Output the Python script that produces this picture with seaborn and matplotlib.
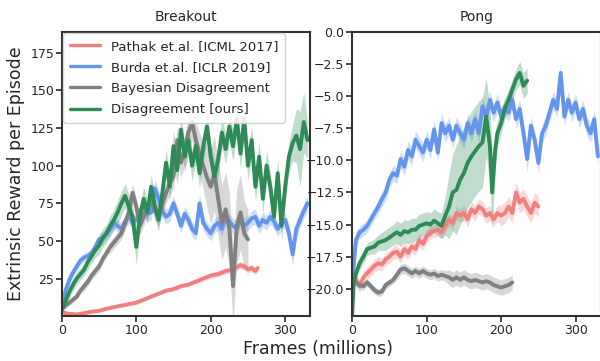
import numpy as np
import pandas as pd
import matplotlib
matplotlib.use("Agg")
import matplotlib.pyplot as plt
import seaborn as sns

# ---------------- Data ----------------
labels = ["Pathak et.al. [ICML 2017]", "Burda et.al. [ICLR 2019]",
          "Bayesian Disagreement", "Disagreement [ours]"]
colors = ["#F08080", "#6495ED", "#808080", "#2E8B57"]

# Breakout
bo_red_x = [0, 5, 10, 20, 30, 40, 50, 60, 70, 80, 90, 100, 110, 120, 130, 140, 150,
            160, 170, 180, 190, 200, 210, 220, 230, 240, 245, 250, 255, 260, 263]
bo_red_y = [3, 2, 1.5, 1.2, 2, 3, 3.5, 5, 6, 7, 8, 9, 11, 13, 15, 17, 18,
            20, 21, 23, 25, 27, 28, 30, 31, 34, 33, 31, 32, 30, 32]
bo_red_s = [1, 1, 1, 1, 1, 1, 1, 1, 1, 1, 1, 1.2, 1.2, 1.2, 1.2, 1.5, 1.5,
            1.5, 1.5, 1.5, 2, 2, 2, 2, 2, 2.5, 2.5, 2.5, 2.5, 2.5, 2.5]

bo_x5 = list(range(0, 331, 5))
bo_blue_y = [5, 17, 24, 29, 33, 37, 39, 40, 42, 46, 51, 52, 55, 58, 62, 60, 58, 63, 67, 62,
             64, 70, 73, 68, 69, 85, 78, 70, 66, 68, 75, 68, 60, 68, 64, 58, 55, 75, 62, 58,
             55, 60, 62, 58, 66, 63, 60, 58, 64, 60, 62, 65, 66, 60, 64, 62, 66, 63, 58, 62,
             64, 55, 41, 58, 64, 70, 75]
bo_blue_s = [2, 3, 3, 3, 3, 3, 3, 3, 3, 3, 4, 4, 4, 4, 4, 4, 4, 4, 5, 5,
             5, 5, 5, 5, 5, 6, 6, 5, 5, 5, 5, 5, 5, 5, 5, 5, 5, 6, 5, 5,
             5, 5, 5, 5, 5, 5, 5, 5, 5, 5, 5, 5, 5, 5, 5, 5, 5, 5, 5, 5,
             5, 6, 8, 6, 5, 5, 5]
bo_green_y = [4, 10, 16, 21, 25, 28, 31, 36, 40, 44, 47, 52, 55, 60, 64, 69, 75, 80, 73, 66,
              46, 66, 78, 69, 86, 73, 64, 82, 102, 86, 113, 97, 124, 106, 117, 100, 113, 95, 113, 126,
              106, 93, 104, 122, 111, 126, 113, 131, 108, 131, 100, 117, 86, 106, 78, 100, 86, 66, 95, 60,
              86, 106, 115, 120, 111, 129, 117]
bo_green_s = [2, 3, 4, 4, 4, 4, 4, 5, 5, 5, 6, 6, 6, 7, 7, 8, 8, 8, 8, 8,
              12, 8, 8, 8, 8, 8, 8, 8, 9, 9, 10, 10, 10, 10, 10, 10, 10, 10, 10, 10,
              10, 10, 10, 10, 10, 10, 10, 10, 10, 10, 10, 10, 10, 10, 10, 10, 10, 10, 10, 10,
              10, 10, 12, 18, 25, 20, 12]
bo_gray_x = list(range(0, 251, 5))
bo_gray_y = [5, 7, 9, 11, 13, 17, 20, 23, 27, 30, 33, 38, 42, 46, 49, 52, 55, 62, 69, 82,
             73, 60, 66, 72, 78, 70, 66, 74, 82, 88, 93, 117, 102, 110, 122, 129, 117, 108, 100, 92,
             86, 95, 78, 62, 71, 58, 20, 60, 69, 55, 51]
bo_gray_s = [2, 2, 2, 2, 2, 2, 3, 3, 3, 3, 3, 3, 3, 4, 4, 4, 4, 5, 5, 6,
             6, 6, 6, 6, 6, 6, 6, 7, 7, 8, 8, 10, 10, 10, 12, 12, 12, 14, 16, 20,
             25, 25, 25, 25, 25, 25, 25, 25, 25, 22, 20]

# Pong
pg_x5 = list(range(0, 331, 5))
pg_blue_y = [-19.5, -16.2, -15.6, -15.4, -15.1, -14.6, -14.1, -13.6, -13.0, -12.5, -11.5, -11.0, -11.2, -9.9,
             -10.5, -9.2, -9.7, -8.4, -8.9, -9.4, -8.4, -9.2, -7.6, -9.4, -7.1, -7.9, -7.3, -8.4,
             -7.3, -7.9, -8.4, -7.1, -7.9, -6.8, -7.9, -5.8, -6.6, -5.3, -6.3, -5.5, -6.6, -5.8,
             -6.3, -5.3, -6.8, -6.0, -7.9, -9.9, -7.3, -8.4, -10.2, -7.9, -7.3, -6.3, -5.3, -6.0,
             -3.2, -6.6, -5.3, -6.3, -5.5, -6.8, -6.0, -7.3, -7.9, -6.8, -9.7]
pg_blue_s = [1.0, 0.6, 0.5, 0.5, 0.5, 0.5, 0.5, 0.5, 0.6, 0.6, 0.6, 0.6, 0.6, 0.7,
             0.7, 0.7, 0.7, 0.7, 0.7, 0.7, 0.7, 0.7, 0.7, 0.7, 0.7, 0.7, 0.7, 0.7,
             0.7, 0.7, 0.7, 0.7, 0.7, 0.7, 0.7, 0.7, 0.7, 0.7, 0.7, 0.7, 0.7, 0.7,
             0.7, 0.7, 0.7, 0.7, 0.8, 1.0, 0.7, 0.7, 0.8, 0.7, 0.7, 0.7, 0.7, 0.7,
             0.8, 0.7, 0.7, 0.7, 0.7, 0.7, 0.7, 0.7, 0.7, 0.7, 0.7]
pg_green_x = [0, 2, 5, 10, 15, 20, 25, 30, 35, 40, 45, 50, 55, 60, 65, 70, 75, 80, 85, 90, 95, 100,
              105, 110, 115, 120, 125, 130, 135, 140, 145, 150, 155, 160, 165, 170, 175, 180,
              185, 188, 192, 195, 200, 205, 210, 215, 220, 225, 230, 235]
pg_green_y = [-22.0, -19.6, -18.8, -18.0, -17.5, -16.9, -16.8, -16.7, -16.4, -16.3, -16.2, -16.0, -15.8,
              -15.6, -15.8, -15.5, -15.6, -15.4, -15.4, -15.1, -15.0, -14.9, -15.0, -14.7, -14.9, -15.1,
              -14.3, -13.6, -12.5, -12.3, -11.5, -11.0, -10.2, -9.7, -9.3, -8.9, -8.6, -6.6,
              -8.9, -12.5, -9.2, -7.9, -7.1, -6.0, -5.3, -4.5, -3.7, -3.2, -4.2, -3.8]
pg_green_s = [0.3, 0.5, 0.5, 0.5, 0.5, 0.5, 0.5, 0.6, 0.6, 0.7, 0.8, 0.8, 0.8,
              0.9, 0.9, 0.9, 0.9, 0.9, 0.9, 0.9, 0.9, 0.9, 0.9, 0.9, 0.9, 1.0,
              1.5, 2.5, 3.0, 3.5, 3.5, 3.5, 3.5, 3.5, 3.5, 3.5, 3.5, 3.0,
              3.0, 3.0, 1.5, 1.0, 0.8, 0.8, 0.8, 0.8, 0.8, 0.9, 1.0, 1.0]
pg_red_x = list(range(0, 251, 5))
pg_red_y = [-19.0, -19.3, -19.8, -19.1, -18.8, -18.5, -18.2, -18.0, -18.1, -17.7, -17.5, -17.2, -17.1,
            -17.5, -16.9, -17.2, -16.7, -16.9, -16.2, -16.5, -15.9, -15.6, -15.5, -15.4, -15.6, -15.1,
            -14.6, -14.9, -14.1, -14.3, -14.1, -14.6, -13.8, -14.1, -13.6, -13.8, -14.3, -14.1, -14.6,
            -14.1, -14.3, -14.1, -13.6, -14.1, -12.5, -13.3, -13.0, -13.6, -14.1, -13.3, -13.6]
pg_red_s = [0.5] * 30 + [0.6] * 10 + [0.8] * 11
pg_gray_x = list(range(0, 216, 5))
pg_gray_y = [-19.5, -19.5, -19.7, -19.8, -19.5, -19.8, -20.1, -20.3, -20.2, -19.7, -19.5, -19.3, -18.9,
             -18.5, -18.4, -18.6, -18.8, -18.6, -18.8, -18.6, -18.8, -18.9, -18.8, -19.0, -18.9, -19.0,
             -19.1, -19.3, -19.1, -19.3, -19.1, -19.3, -19.4, -19.3, -19.4, -19.5, -19.4, -19.5, -19.7,
             -19.8, -19.9, -19.8, -19.7, -19.5]
pg_gray_s = [0.3] * 12 + [0.4] * 14 + [0.6] * 18

# ---------------- Plot ----------------
sns.set_theme(style="ticks")
plt.rcParams["font.family"] = ["DejaVu Sans"]

fig = plt.figure(figsize=(6.0, 3.61), dpi=100)
ax1 = fig.add_axes([0.103, 0.125, 0.414, 0.787])
ax2 = fig.add_axes([0.587, 0.125, 0.414, 0.787])


def draw(ax, x, y, s, color, label=None):
    x = np.asarray(x, float)
    y = np.asarray(y, float)
    s = np.asarray(s, float)
    ax.fill_between(x, y - s, y + s, color=color, alpha=0.3, linewidth=0)
    sns.lineplot(x=x, y=y, ax=ax, color=color, linewidth=2.8, label=label)


draw(ax1, bo_red_x, bo_red_y, bo_red_s, colors[0], labels[0])
draw(ax1, bo_x5, bo_blue_y, bo_blue_s, colors[1], labels[1])
draw(ax1, bo_gray_x, bo_gray_y, bo_gray_s, colors[2], labels[2])
draw(ax1, bo_x5, bo_green_y, bo_green_s, colors[3], labels[3])

draw(ax2, pg_red_x, pg_red_y, pg_red_s, colors[0])
draw(ax2, pg_x5, pg_blue_y, pg_blue_s, colors[1])
draw(ax2, pg_gray_x, pg_gray_y, pg_gray_s, colors[2])
draw(ax2, pg_green_x, pg_green_y, pg_green_s, colors[3])

ax1.set_xlim(0, 333.6)
ax1.set_ylim(0.2, 189)
ax1.set_yticks([25, 50, 75, 100, 125, 150, 175])
ax2.set_xlim(0, 333.6)
ax2.set_ylim(-22.1, 0)
ax2.set_yticks([-20, -17.5, -15, -12.5, -10, -7.5, -5, -2.5, 0])
ax2.set_yticklabels(["\u221220.0", "\u221217.5", "\u221215.0", "\u221212.5", "\u221210.0",
                     "\u22127.5", "\u22125.0", "\u22122.5", "0.0"])

for ax, title in [(ax1, "Breakout"), (ax2, "Pong")]:
    ax.set_xticks([0, 100, 200, 300])
    ax.set_title(title, fontsize=10, pad=8)
    ax.tick_params(axis="both", labelsize=9, length=4, width=1.2, direction="out",
                   colors="#262626", pad=1.5)
    for sp in ax.spines.values():
        sp.set_linewidth(1.5)
        sp.set_color("#333333")
    ax.set_xlabel("")
    ax.set_ylabel("")

ax1.set_ylabel("Extrinsic Reward per Episode", fontsize=12.5, labelpad=4)
fig.text(0.53, 0.032, "Frames (millions)", ha="center", va="center", fontsize=12.5)

leg = ax1.legend(loc="upper left", fontsize=9.5, frameon=True, handlelength=2.3,
                 borderaxespad=0.1, labelspacing=0.62, borderpad=0.5)
leg.get_frame().set_edgecolor("#cccccc")
leg.get_frame().set_alpha(0.85)
for line in leg.get_lines():
    line.set_linewidth(2.4)

fig.savefig("out.png", dpi=100)
